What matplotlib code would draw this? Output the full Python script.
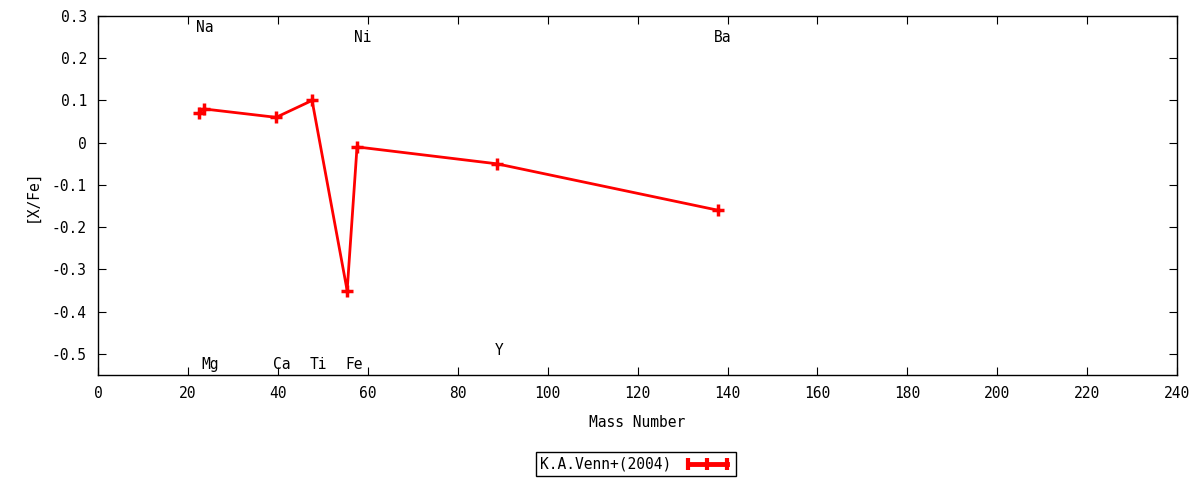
import matplotlib
matplotlib.use("Agg")
import matplotlib.pyplot as plt

plt.rcParams['font.family'] = ['DejaVu Sans Mono']
plt.rcParams['axes.unicode_minus'] = False

# Venn et al. (2004) abundances
elements = ['Na', 'Mg', 'Ca', 'Ti', 'Fe', 'Ni', 'Y', 'Ba']
mass = [22.5, 23.5, 39.6, 47.6, 55.4, 57.6, 88.7, 137.9]
xfe = [0.07, 0.08, 0.06, 0.10, -0.35, -0.01, -0.05, -0.16]

# label positions (x, y) in data coords
label_x = [23.8, 24.9, 40.9, 48.9, 56.9, 58.9, 89.2, 138.8]
label_y = [0.273, -0.525, -0.525, -0.525, -0.525, 0.248, -0.492, 0.248]

fig = plt.figure(figsize=(12, 4.8), dpi=100)
ax = fig.add_axes([0.0817, 0.2188, 0.8993, 0.7479])

ax.plot(mass, xfe, color='red', lw=2, marker='+', ms=9, mew=2.5,
        label='K.A.Venn+(2004)')

for el, lx, ly in zip(elements, label_x, label_y):
    ax.text(lx, ly, el, ha='center', va='center', fontsize=10.5)

ax.set_xlim(0, 240)
ax.set_ylim(-0.55, 0.3)
ax.set_xticks(range(0, 241, 20))
ax.set_yticks([0.3, 0.2, 0.1, 0, -0.1, -0.2, -0.3, -0.4, -0.5])
ax.set_yticklabels(['0.3', '0.2', '0.1', '0', '-0.1', '-0.2', '-0.3', '-0.4', '-0.5'])
ax.tick_params(direction='in', top=True, right=True, length=6, labelsize=10.5, pad=8)
for s in ax.spines.values():
    s.set_linewidth(1)

ax.set_xlabel('Mass Number', fontsize=10.5, labelpad=10)
ax.set_ylabel('[X/Fe]', fontsize=10.5, labelpad=9)

leg = fig.legend(loc='center', bbox_to_anchor=(0.53, 0.033), markerfirst=False,
                 numpoints=3, fontsize=10.5, fancybox=False, framealpha=1,
                 edgecolor='black', borderpad=0.3, handlelength=3.3)
leg.get_frame().set_linewidth(1)
for ln in leg.get_lines():
    ln.set_linewidth(3.5)
    ln.set_marker('|')
    ln.set_markersize(9)
    ln.set_markeredgewidth(3)

fig.savefig('out.png', dpi=100)
